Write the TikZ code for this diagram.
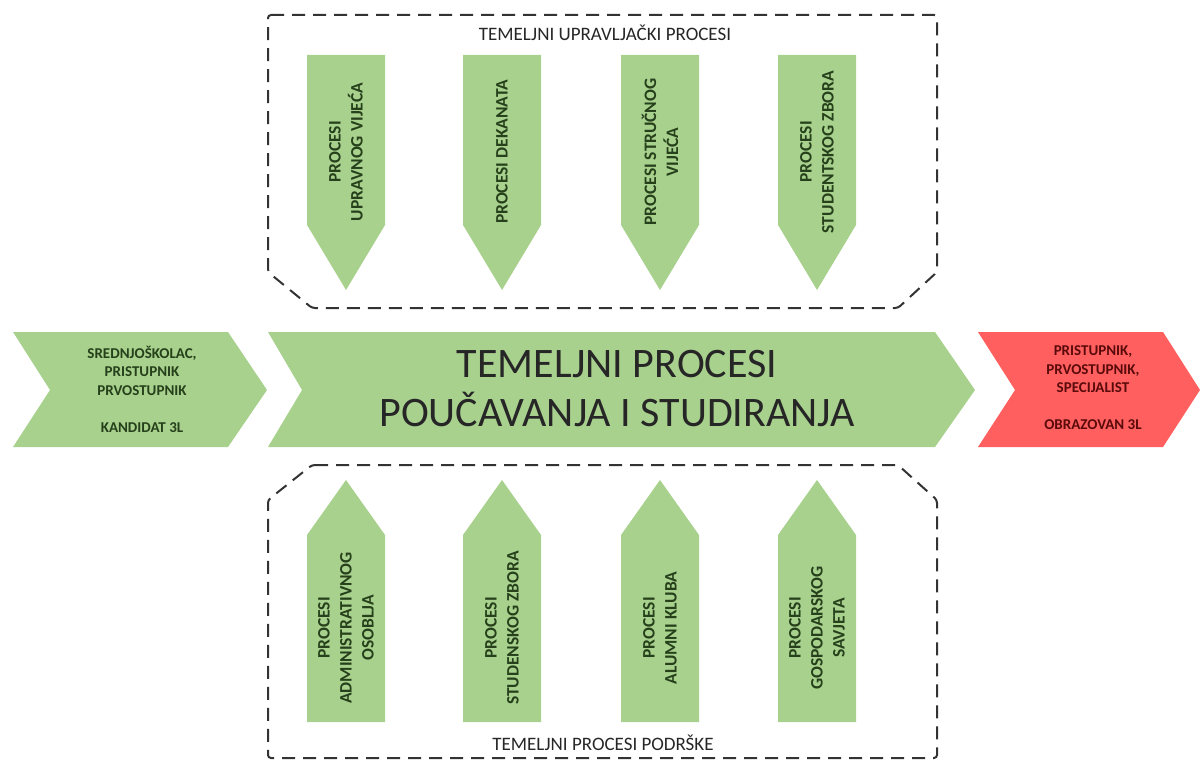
\documentclass[tikz,border=0pt]{standalone}
\usepackage{fontspec}
\setmainfont{Carlito}
\definecolor{pgreen}{HTML}{A9D18E}
\definecolor{pred}{HTML}{FF5F5F}
\definecolor{dgreen}{HTML}{25401A}
\definecolor{dred}{HTML}{5A0A0A}
\definecolor{dash}{HTML}{333333}
\begin{document}
\begin{tikzpicture}[x=1pt,y=-1pt,
  frame/.style={draw=dash,line width=2pt,dash pattern=on 13pt off 8pt,rounded corners=3pt},
  vtxt/.style={rotate=90,align=center,font=\bfseries\fontsize{17.5}{22}\selectfont,text=dgreen},
  lbl/.style={font=\fontsize{19}{22}\selectfont,text=black!85},
  ctxt/.style={align=center,font=\bfseries\fontsize{15}{18.5}\selectfont}]
\useasboundingbox (0,0) rectangle (1200,760);
% top frame
\draw[frame] (268,15) -- (937,15) -- (937,272) -- (898,308) -- (312,308) -- (268,272) -- cycle;
\node[lbl] (tl) at (605,33) {TEMELJNI UPRAVLJAČKI PROCESI};
% bottom frame
\draw[frame] (312,465) -- (898,465) -- (937,500) -- (937,758) -- (268,758) -- (268,500) -- cycle;
\node[lbl] (bl) at (603,743) {TEMELJNI PROCESI PODRŠKE};
% top arrows
\foreach \a/\n/\t in {307/t1/{PROCESI\\UPRAVNOG VIJEĆA},463/t2/{PROCESI DEKANATA},621/t3/{PROCESI STRUČNOG\\VIJEĆA},778/t4/{PROCESI\\STUDENTSKOG ZBORA}}{
  \fill[pgreen] (\a,55) -- (\a+78,55) -- (\a+78,225) -- (\a+39,290) -- (\a,225) -- cycle;
  \node[vtxt] (\n) at (\a+39,152) {\t};
}
% bottom arrows
\foreach \a/\n/\t in {307/b1/{PROCESI\\ADMINISTRATIVNOG\\OSOBLJA},463/b2/{PROCESI\\STUDENSKOG ZBORA},621/b3/{PROCESI\\ALUMNI KLUBA},778/b4/{PROCESI\\GOSPODARSKOG\\SAVJETA}}{
  \fill[pgreen] (\a,722) -- (\a,535) -- (\a+39,480) -- (\a+78,535) -- (\a+78,722) -- cycle;
  \node[vtxt] (\n) at (\a+39,628) {\t};
}
% middle chevrons
\fill[pgreen] (13,332) -- (228,332) -- (267,390) -- (228,447) -- (13,447) -- (50,390) -- cycle;
\node[ctxt,text=dgreen] (src) at (142,389) {SREDNJOŠKOLAC,\\PRISTUPNIK\\PRVOSTUPNIK\\[18.5pt]KANDIDAT 3L};
\fill[pgreen] (268,332) -- (935,332) -- (975,390) -- (935,447) -- (268,447) -- (302,390) -- cycle;
\node[align=center,font=\fontsize{42}{49}\selectfont,text=black!85] (main) at (617,389) {TEMELJNI PROCESI\\POUČAVANJA I STUDIRANJA};
\fill[pred] (978,332) -- (1163,332) -- (1200,390) -- (1163,447) -- (978,447) -- (1015,390) -- cycle;
\node[ctxt,text=dred] (dst) at (1093,388) {PRISTUPNIK,\\PRVOSTUPNIK,\\SPECIJALIST\\[18.5pt]OBRAZOVAN 3L};
\end{tikzpicture}
\end{document}
